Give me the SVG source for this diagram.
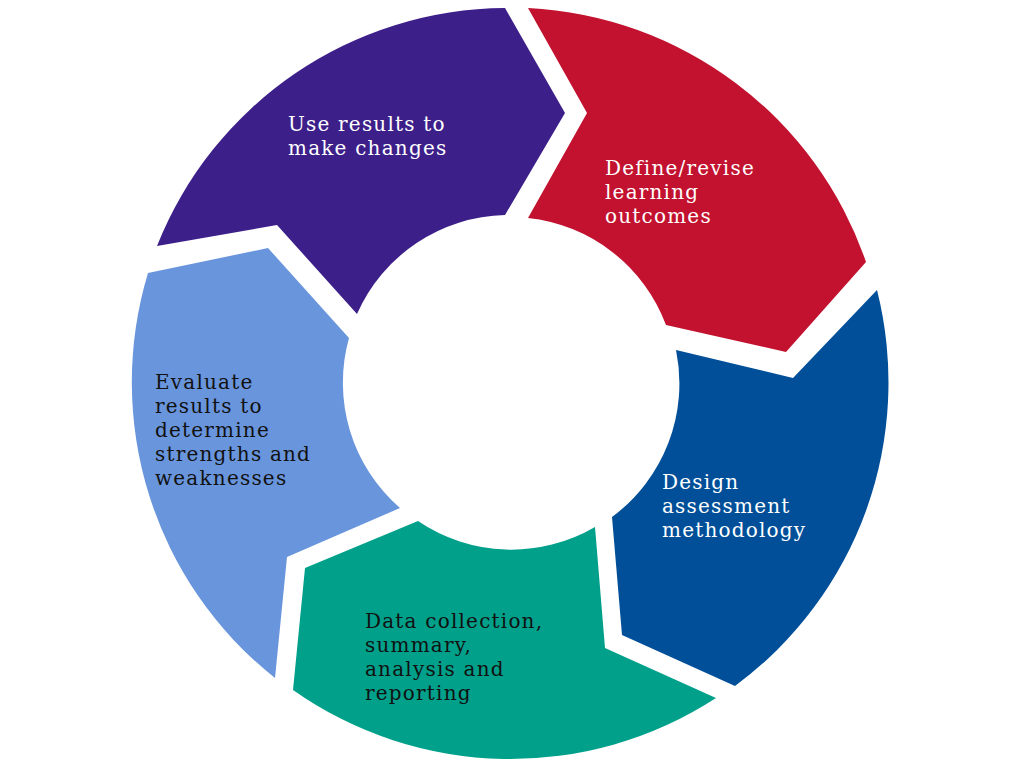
<svg xmlns="http://www.w3.org/2000/svg" width="1024" height="768" viewBox="0 0 1024 768">
<style>
text{font-family:"DejaVu Serif","Liberation Serif",serif;font-size:20px;letter-spacing:1.2px}
.w{fill:#fff}.k{fill:#111}
</style>
<rect width="1024" height="768" fill="#fff"/>
<g id="purple"><path d="M157,246 A377,377 0 0 1 505,8 L565,113 L505,215 A166,166 0 0 0 357,314 L277,225 Z" fill="#3d1f8a"/>
<text class="w" x="288" y="131">Use results to</text><text class="w" x="288" y="155">make changes</text></g>
<g id="red"><path d="M528,8 A377,377 0 0 1 866,262 L786,352 L666,325 A166,166 0 0 0 528,218 L587,113 Z" fill="#c2122f"/>
<text class="w" x="605" y="175">Define/revise</text><text class="w" x="605" y="199">learning</text><text class="w" x="605" y="223">outcomes</text></g>
<g id="blue"><path d="M877,290 A377,377 0 0 1 735,686 L622,635 L612,517 A166,166 0 0 0 676,350 L793,378 Z" fill="#004f98"/>
<text class="w" x="662" y="489">Design</text><text class="w" x="662" y="513">assessment</text><text class="w" x="662" y="537">methodology</text></g>
<g id="teal"><path d="M716,698 A377,377 0 0 1 293,690 L305,568 L418,521 A166,166 0 0 0 595,527 L605,648 Z" fill="#00a08a"/>
<text class="k" x="365" y="628">Data collection,</text><text class="k" x="365" y="652">summary,</text><text class="k" x="365" y="676">analysis and</text><text class="k" x="365" y="700">reporting</text></g>
<g id="lightblue"><path d="M275,678 A377,377 0 0 1 148,273 L268,248 L349,338 A166,166 0 0 0 400,508 L287,557 Z" fill="#6995dc"/>
<text class="k" x="155" y="389">Evaluate</text><text class="k" x="155" y="413">results to</text><text class="k" x="155" y="437">determine</text><text class="k" x="155" y="461">strengths and</text><text class="k" x="155" y="485">weaknesses</text></g>
<g id="connectors"/>
</svg>
